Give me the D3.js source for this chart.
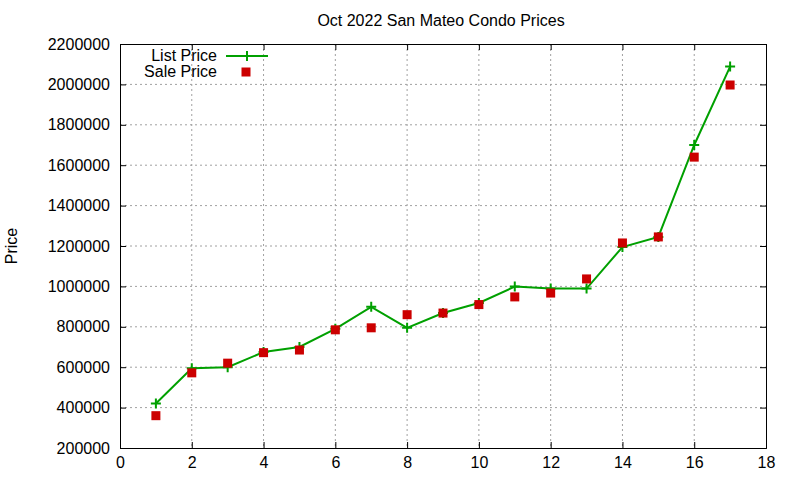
<!DOCTYPE html>
<html><head><meta charset="utf-8">
<script src="https://cdn.jsdelivr.net/npm/d3@7"></script>
<style>body{margin:0;background:#fff}text{font-family:"Liberation Sans",Arial,sans-serif}</style>
</head><body><svg width="800" height="480"></svg>
<script>
const xs = [1,2,3,4,5,6,7,8,9,10,11,12,13,14,15,16,17];
const listPrice = [420000,595000,600000,675000,700000,790000,899000,795000,868000,918000,999000,989000,989000,1195000,1245000,1700000,2088000];
const salePrice = [360000,572000,620000,672000,685000,785000,795000,860000,868000,910000,948000,967000,1037000,1215000,1245000,1640000,1997000];
const xTicks = [0,2,4,6,8,10,12,14,16,18];
const yTicks = [200000,400000,600000,800000,1000000,1200000,1400000,1600000,1800000,2000000,2200000];

const svg = d3.select("svg");
const L=120,R=766,T=44,B=448;
const FS=16;
const x = d3.scaleLinear().domain([0,18]).range([L,R]);
const y = d3.scaleLinear().domain([200000,2200000]).range([B,T]);

svg.append("g").selectAll("line").data(xTicks.slice(1,-1)).join("line")
 .attr("x1",d=>x(d)).attr("x2",d=>x(d)).attr("y1",T).attr("y2",B)
 .attr("stroke","#a0a0a0").attr("stroke-dasharray","2,3");
svg.append("g").selectAll("line").data(yTicks.slice(1,-1)).join("line")
 .attr("y1",d=>y(d)).attr("y2",d=>y(d)).attr("x1",L).attr("x2",R)
 .attr("stroke","#a0a0a0").attr("stroke-dasharray","2,3");

const xa = svg.append("g").attr("transform",`translate(0,${B})`)
 .call(d3.axisBottom(x).tickValues(xTicks).tickSize(-6).tickPadding(9).tickFormat(d3.format("d")));
const xa2 = svg.append("g").attr("transform",`translate(0,${T})`)
 .call(d3.axisTop(x).tickValues(xTicks).tickSize(-6).tickFormat(""));
const ya = svg.append("g").attr("transform",`translate(${L},0)`)
 .call(d3.axisLeft(y).tickValues(yTicks).tickSize(-6).tickPadding(10).tickFormat(d3.format("d")));
const ya2 = svg.append("g").attr("transform",`translate(${R},0)`)
 .call(d3.axisRight(y).tickValues(yTicks).tickSize(-6).tickFormat(""));
[xa,xa2,ya,ya2].forEach(g=>{g.select(".domain").attr("stroke","#000");
 g.selectAll("text").attr("font-size",FS).attr("fill","#000").style("font-family","Liberation Sans, Arial, sans-serif");});

const data = xs.map((d,i)=>({x:d,l:listPrice[i],s:salePrice[i]}));
svg.append("path").datum(data).attr("fill","none").attr("stroke","#00a000").attr("stroke-width",2)
 .attr("d",d3.line().x(d=>x(d.x)).y(d=>y(d.l)));
const plus = (g,cx,cy)=>{g.append("path").attr("d",`M${cx-5},${cy}H${cx+5}M${cx},${cy-5}V${cy+5}`).attr("stroke","#00a000").attr("stroke-width",2);};
const pg = svg.append("g");
data.forEach(d=>plus(pg,x(d.x),y(d.l)));
svg.append("g").selectAll("rect").data(data).join("rect")
 .attr("x",d=>x(d.x)-4.5).attr("y",d=>y(d.s)-4.5).attr("width",9).attr("height",9).attr("fill","#cc0000");

svg.append("text").attr("x",217).attr("y",61).attr("text-anchor","end").attr("font-size",FS).text("List Price");
svg.append("line").attr("x1",226).attr("x2",268).attr("y1",56).attr("y2",56).attr("stroke","#00a000").attr("stroke-width",2);
plus(svg,247,56);
svg.append("text").attr("x",217).attr("y",77).attr("text-anchor","end").attr("font-size",FS).text("Sale Price");
svg.append("rect").attr("x",241.5).attr("y",67.5).attr("width",9).attr("height",9).attr("fill","#cc0000");

svg.append("text").attr("x",441).attr("y",26).attr("text-anchor","middle").attr("font-size",FS).text("Oct 2022 San Mateo Condo Prices");
svg.append("text").attr("transform","translate(17,246) rotate(-90)").attr("text-anchor","middle").attr("font-size",FS).text("Price");
</script></body></html>
